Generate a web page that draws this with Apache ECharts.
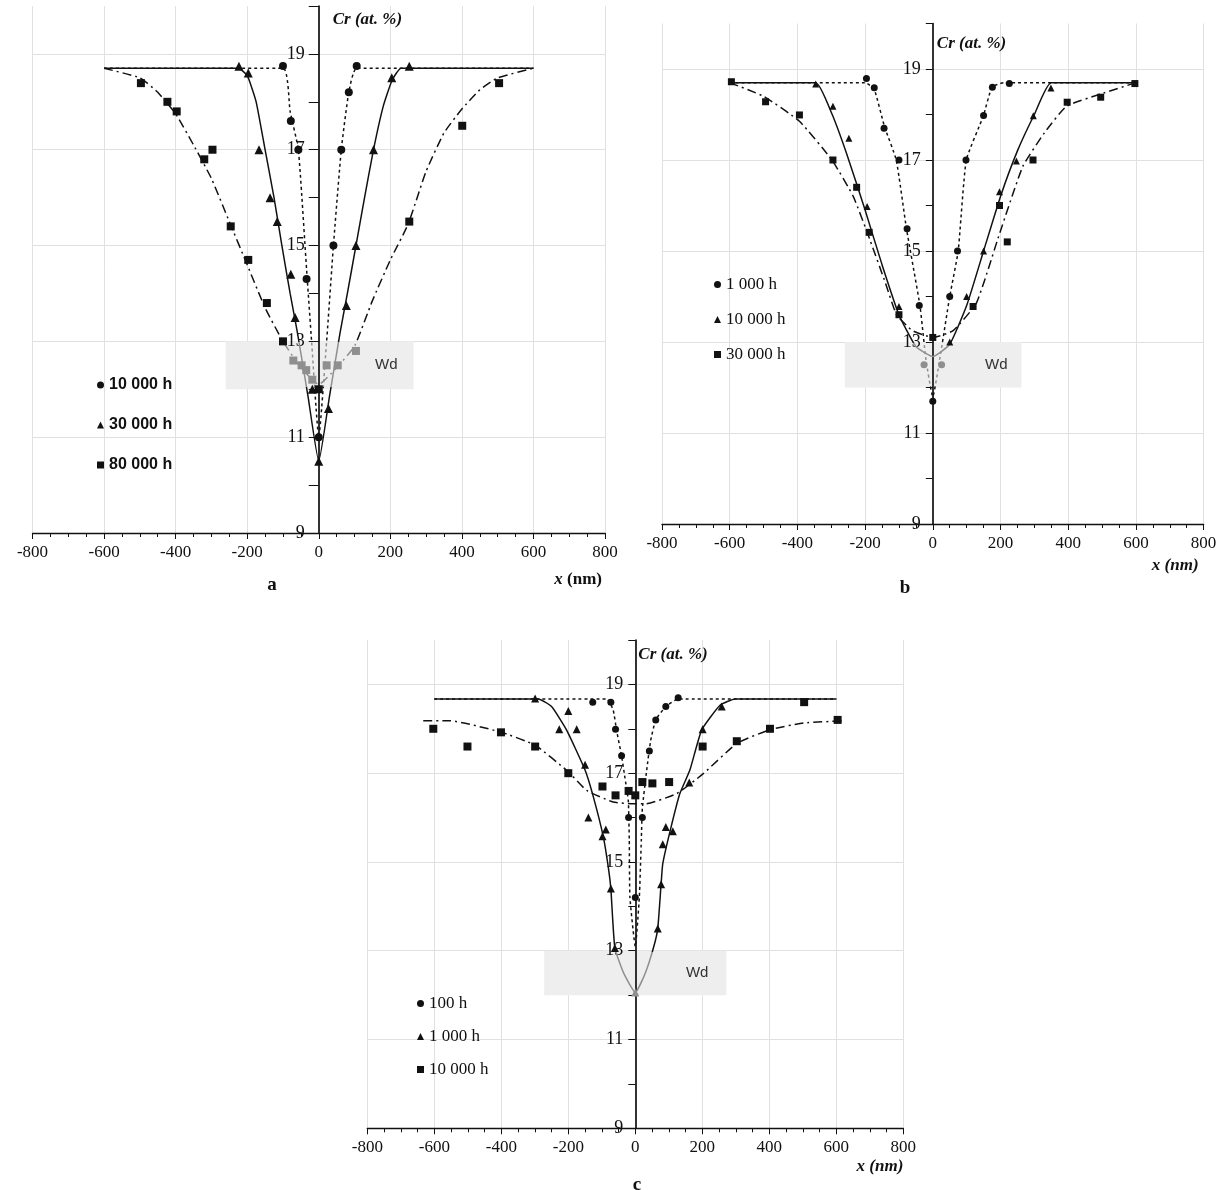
<!DOCTYPE html>
<html>
<head>
<meta charset="utf-8">
<script src="https://cdn.jsdelivr.net/npm/echarts@6/dist/echarts.min.js"></script>
<style>
html,body{margin:0;padding:0;background:#fff;}
#chart{width:1224px;height:1190px;}
</style>
</head>
<body>
<div id="chart"></div>
<script>
// ---------- axis ranges / ticks ----------
const X_MIN = -800, X_MAX = 800, X_STEP = 200;
const Y_MIN = 9, Y_MAX = 20, Y_STEP = 1;
const Y_AXIS_NAME = 'Cr (at. %)';
const WD_LABEL = 'Wd';
const WD_Y = [12, 13];

// ---------- panel a ----------
const aNames = ['10 000 h', '30 000 h', '80 000 h'];
const a10kPts = [[-100,18.75],[-78,17.6],[-57,17.0],[-34,14.3],[0,11.0],[41,15.0],[63,17.0],[84,18.2],[106,18.75]];
const a30kPts = [[-223,18.74],[-197,18.6],[-167,17.0],[-136,16.0],[-116,15.5],[-78,14.4],[-66,13.5],[-18,12.0],[0,10.5],[27,11.6],[77,13.75],[104,15.0],[153,17.0],[204,18.5],[253,18.74]];
const a80kPts = [[-497,18.39],[-423,18.0],[-397,17.8],[-320,16.8],[-297,17.0],[-246,15.4],[-197,14.7],[-145,13.8],[-100,13.0],[-71,12.6],[-48,12.5],[-35,12.4],[-18,12.2],[0,12.0],[22,12.5],[53,12.5],[104,12.8],[253,15.5],[401,17.5],[504,18.39]];
const a10kFit = [[-600,18.7],[-100,18.7],[-80,17.8],[-57,17.0],[-34,14.5],[-20,13.0],[0,11.0],[22,13.0],[41,15.0],[63,17.0],[84,18.2],[106,18.7],[600,18.7]];
const a30kFit = [[-600,18.7],[-225,18.7],[-200,18.55],[-175,18.0],[-150,17.0],[-125,16.0],[-103,15.0],[-80,14.0],[-60,13.2],[-30,11.85],[0,10.5],[30,11.85],[60,13.2],[80,14.0],[104,15.0],[128,16.0],[153,17.0],[180,17.9],[205,18.45],[230,18.7],[600,18.7]];
const a80kFit = [[-600,18.7],[-500,18.5],[-450,18.2],[-400,17.75],[-350,17.1],[-300,16.4],[-250,15.5],[-200,14.6],[-150,13.7],[-100,13.0],[-50,12.45],[0,12.1],[50,12.45],[100,12.9],[150,13.85],[200,14.7],[250,15.45],[300,16.55],[350,17.35],[400,17.85],[450,18.25],[500,18.5],[600,18.7]];
const aWdX = [-260, 265];

// ---------- panel b ----------
const bNames = ['1 000 h', '10 000 h', '30 000 h'];
const b1kPts = [[-196,18.79],[-173,18.59],[-144,17.7],[-100,17.0],[-76,15.49],[-40,13.8],[-26,12.5],[0,11.7],[26,12.5],[50,14.0],[73,15.0],[98,17.0],[150,17.98],[176,18.6],[226,18.68]];
const b10kPts = [[-346,18.67],[-295,18.18],[-248,17.48],[-194,15.98],[-100,13.78],[50,13.0],[100,14.0],[150,15.0],[197,16.3],[247,16.98],[297,17.97],[349,18.58]];
const b30kPts = [[-595,18.72],[-494,18.28],[-394,17.99],[-295,17.0],[-225,16.4],[-188,15.41],[-100,13.6],[0,13.1],[119,13.78],[197,16.0],[220,15.2],[296,17.0],[397,18.27],[496,18.38],[597,18.68]];
const b1kFit = [[-600,18.7],[-200,18.7],[-173,18.55],[-143,17.74],[-108,17.0],[-78,15.5],[-38,13.8],[-20,12.6],[0,11.8],[20,12.6],[50,14.0],[75,15.0],[99,17.0],[149,17.96],[175,18.6],[210,18.7],[600,18.7]];
const b10kFit = [[-600,18.7],[-346,18.7],[-300,18.05],[-255,17.15],[-200,15.9],[-150,14.7],[-100,13.6],[-50,12.9],[0,12.68],[50,12.95],[100,13.8],[150,15.0],[200,16.2],[250,17.2],[300,18.0],[350,18.7],[600,18.7]];
const b30kFit = [[-600,18.7],[-500,18.4],[-394,17.85],[-298,17.0],[-235,16.2],[-186,15.25],[-140,14.3],[-107,13.6],[-60,13.25],[0,13.1],[60,13.25],[129,13.86],[198,15.4],[266,16.86],[330,17.6],[395,18.18],[496,18.45],[600,18.7]];
const bWdX = [-260, 262];

// ---------- panel c ----------
const cNames = ['100 h', '1 000 h', '10 000 h'];
const c100Pts = [[-127,18.6],[-73,18.6],[-59,17.99],[-41,17.39],[-20,16.0],[0,14.2],[21,16.0],[42,17.5],[61,18.2],[91,18.5],[128,18.7]];
const c1kPts = [[-299,18.68],[-227,17.99],[-200,18.4],[-175,17.99],[-150,17.19],[-140,16.0],[-98,15.58],[-88,15.73],[-73,14.4],[-61,13.06],[0,12.06],[67,13.5],[77,14.5],[82,15.4],[91,15.79],[112,15.69],[161,16.79],[201,17.99],[258,18.5]];
const c10kPts = [[-603,18.0],[-501,17.6],[-401,17.92],[-299,17.6],[-200,17.0],[-98,16.7],[-59,16.5],[-20,16.6],[0,16.5],[21,16.8],[51,16.77],[101,16.8],[201,17.6],[303,17.72],[402,18.0],[504,18.6],[604,18.2]];
const c100Fit = [[-600,18.67],[-85,18.67],[-66,18.42],[-56,17.97],[-41,17.39],[-31,16.9],[-21,16.39],[-18,15.5],[-16,14.2],[0,13.1],[12,14.2],[18,15.5],[21,16.2],[34,17.07],[46,17.74],[61,18.2],[91,18.5],[128,18.67],[600,18.67]];
const c1kFit = [[-600,18.67],[-290,18.67],[-250,18.5],[-205,17.97],[-150,17.07],[-125,16.46],[-95,15.55],[-80,14.85],[-73,14.4],[-61,13.06],[-35,12.5],[0,12.06],[30,12.5],[54,13.06],[67,13.5],[77,14.5],[82,14.96],[104,15.7],[133,16.54],[163,17.07],[198,17.97],[253,18.53],[298,18.67],[600,18.67]];
const c10kFit = [[-633,18.18],[-553,18.18],[-404,17.93],[-299,17.63],[-200,17.03],[-145,16.61],[-66,16.35],[-6,16.31],[29,16.31],[124,16.54],[203,16.99],[303,17.67],[402,17.98],[502,18.13],[626,18.18]];
const cWdX = [-272, 272];

// ---------- layout & style (not data) ----------
const SERIF = '"Liberation Serif", "Times New Roman", serif';
const SANS = '"Liberation Sans", Arial, sans-serif';
const INK = '#111';
const SYMBOLS = ['circle', 'triangle', 'rect'];
const LINE_TYPES = [[3, 3], 'solid', [9, 4, 2, 4]];

const panels = [
  { names: aNames, pts: [a10kPts, a30kPts, a80kPts], fits: [a10kFit, a30kFit, a80kFit], wdX: aWdX,
    grid: { left: 32.5, top: 6, width: 572.5, height: 527 },
    symSize: [8, 9, 8], yTick: 10, yMargin: 4, yNameGap: -5, yNamePad: 14,
    xName: '{i|x} {n|(nm)}', xNameGap: -3, xNamePad: 38, wdDist: 16,
    legend: { left: 97, top: 377, gap: 24, font: SANS, size: 16, weight: 'bold' },
    tag: { text: 'a', x: 272, y: 585 } },
  { names: bNames, pts: [b1kPts, b10kPts, b30kPts], fits: [b1kFit, b10kFit, b30kFit], wdX: bWdX,
    grid: { left: 662, top: 23.5, width: 541.6, height: 500.5 },
    symSize: [7, 7, 7], yTick: 7, yMargin: 5, yNameGap: -12, yNamePad: 4,
    xName: '{i|x (nm)}', xNameGap: -5, xNamePad: 33, wdDist: 14,
    legend: { left: 714, top: 276, gap: 18, font: SERIF, size: 17, weight: 'normal' },
    tag: { text: 'b', x: 905, y: 588 } },
  { names: cNames, pts: [c100Pts, c1kPts, c10kPts], fits: [c100Fit, c1kFit, c10kFit], wdX: cWdX,
    grid: { left: 367.3, top: 640, width: 536, height: 488.3 },
    symSize: [7, 8, 8], yTick: 7, yMargin: 5, yNameGap: -6, yNamePad: 3,
    xName: '{i|x (nm)}', xNameGap: 0, xNamePad: 30, wdDist: 18,
    legend: { left: 417, top: 995, gap: 16, font: SERIF, size: 17, weight: 'normal' },
    tag: { text: 'c', x: 637, y: 1185 } }
];

const grids = [], xAxes = [], yAxes = [], series = [], legends = [], graphics = [];
const coloredSeries = [];

panels.forEach((p, i) => {
  grids.push(Object.assign({ containLabel: false, outerBoundsMode: 'none' }, p.grid));
  // pixel distance from the grid's left edge to x = 0 (so the y axis sits on x = 0)
  const zeroOffset = p.grid.width * (0 - X_MIN) / (X_MAX - X_MIN);
  xAxes.push({
    gridIndex: i, type: 'value', min: X_MIN, max: X_MAX, interval: X_STEP, z: 0,
    axisLine: { onZero: false, lineStyle: { color: INK, width: 1.4 } },
    axisTick: { length: 6, lineStyle: { color: INK, width: 1 } },
    minorTick: { show: true, splitNumber: 4, length: 4, lineStyle: { color: INK, width: 1 } },
    axisLabel: { margin: 11, fontFamily: SERIF, fontSize: 17, color: INK },
    splitLine: { show: true, lineStyle: { color: '#e0e0e0', width: 1 } },
    name: p.xName, nameLocation: 'end', nameGap: p.xNameGap,
    nameTextStyle: {
      align: 'right', verticalAlign: 'top', padding: [p.xNamePad, 0, 0, 0],
      fontFamily: SERIF, fontSize: 17, color: INK, fontWeight: 'bold',
      rich: {
        i: { fontFamily: SERIF, fontSize: 17, fontStyle: 'italic', fontWeight: 'bold', color: INK },
        n: { fontFamily: SERIF, fontSize: 17, fontWeight: 'bold', color: INK }
      }
    }
  });
  // y axis #1: horizontal grid lines only (drawn beneath the Wd box)
  yAxes.push({
    gridIndex: i, type: 'value', min: Y_MIN, max: Y_MAX, interval: Y_STEP, z: 0,
    axisLine: { show: false }, axisTick: { show: false }, axisLabel: { show: false },
    splitLine: { show: true, lineStyle: { color: ['#e0e0e0', 'rgba(0,0,0,0)'], width: 1 } }
  });
  // y axis #2: the visible axis on x = 0 (drawn above the Wd box)
  const mainY = yAxes.length;
  yAxes.push({
    gridIndex: i, type: 'value', min: Y_MIN, max: Y_MAX, interval: Y_STEP, z: 2,
    position: 'left', offset: -zeroOffset,
    axisLine: { show: true, onZero: false, lineStyle: { color: INK, width: 1.7 } },
    axisTick: { show: true, length: p.yTick, lineStyle: { color: INK, width: 1 } },
    axisLabel: {
      margin: p.yMargin + p.yTick, fontFamily: SERIF, fontSize: 18, color: INK,
      formatter: v => (Math.round(v) % 2 === 1 && v < Y_MAX) ? String(v) : ''
    },
    splitLine: { show: false },
    name: Y_AXIS_NAME, nameLocation: 'end', nameGap: p.yNameGap,
    nameTextStyle: {
      align: 'left', verticalAlign: 'top', padding: [0, 0, 0, p.yNamePad],
      fontFamily: SERIF, fontSize: 17, fontStyle: 'italic', fontWeight: 'bold', color: INK
    }
  });

  // Wd region (background)
  series.push({
    type: 'line', name: 'wd-' + i, xAxisIndex: i, yAxisIndex: mainY, data: [], z: 1, silent: true,
    markArea: {
      silent: true,
      itemStyle: { color: '#eeeeee' },
      label: { show: true, position: 'insideRight', distance: p.wdDist, formatter: WD_LABEL,
               fontFamily: SANS, fontSize: 15, color: '#333' },
      data: [[{ xAxis: p.wdX[0], yAxis: WD_Y[1] }, { xAxis: p.wdX[1], yAxis: WD_Y[0] }]]
    }
  });

  p.fits.forEach((fit, k) => {
    coloredSeries.push(series.length);
    series.push({
      type: 'line', name: 'fit-' + i + '-' + k, xAxisIndex: i, yAxisIndex: mainY,
      data: fit, showSymbol: false, symbol: 'none', smooth: 0.15, z: 3, silent: true,
      lineStyle: { width: 1.5, type: LINE_TYPES[k], opacity: 1 }
    });
  });
  p.pts.forEach((pts, k) => {
    coloredSeries.push(series.length);
    series.push({
      type: 'scatter', name: p.names[k], xAxisIndex: i, yAxisIndex: mainY,
      data: pts, symbol: SYMBOLS[k], symbolSize: p.symSize[k], z: 4, silent: true,
      itemStyle: { opacity: 1 }
    });
  });

  legends.push({
    orient: 'vertical', left: p.legend.left, top: p.legend.top, itemGap: p.legend.gap,
    itemWidth: 7, itemHeight: 7, selectedMode: false, padding: 0,
    textStyle: { fontFamily: p.legend.font, fontSize: p.legend.size, fontWeight: p.legend.weight, color: INK },
    data: p.names.map((n, k) => ({ name: n, icon: SYMBOLS[k], itemStyle: { color: INK, borderWidth: 0, opacity: 1 } }))
  });

  graphics.push({
    type: 'text', x: p.tag.x, y: p.tag.y, silent: true,
    style: { text: p.tag.text, fill: INK, font: 'bold 19px ' + SERIF, align: 'center', verticalAlign: 'middle' }
  });
});

const chart = echarts.init(document.getElementById('chart'), null, { renderer: 'canvas' });
chart.setOption({
  backgroundColor: '#ffffff',
  animation: false,
  textStyle: { fontFamily: SERIF },
  grid: grids,
  xAxis: xAxes,
  yAxis: yAxes,
  legend: legends,
  visualMap: {
    type: 'piecewise', show: false, dimension: 1, seriesIndex: coloredSeries,
    pieces: [{ gte: 12.05, lt: 12.98, color: '#8f8f8f' }],
    outOfRange: { color: '#111111', opacity: 1 }
  },
  graphic: graphics,
  series: series
});
</script>
</body>
</html>
